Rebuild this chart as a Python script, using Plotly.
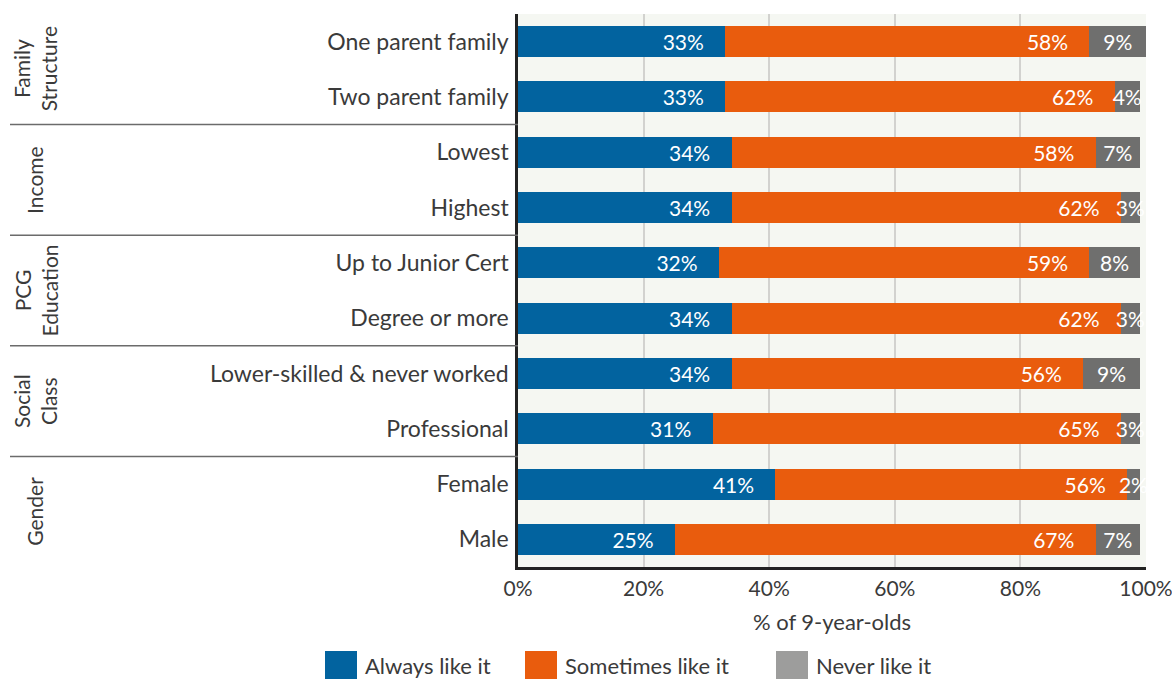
import plotly.graph_objects as go

# data
GROUPS = ["Family<br>Structure", "Income", "PCG<br>Education", "Social<br>Class", "Gender"]
GROUP_SIZES = [2, 2, 2, 2, 2]
CATEGORIES = [
    "One parent family", "Two parent family",
    "Lowest", "Highest",
    "Up to Junior Cert", "Degree or more",
    "Lower-skilled & never worked", "Professional",
    "Female", "Male",
]
ALWAYS = [33, 33, 34, 34, 32, 34, 34, 31, 41, 25]
SOMETIMES = [58, 62, 58, 62, 59, 62, 56, 65, 56, 67]
NEVER = [9, 4, 7, 3, 8, 3, 9, 3, 2, 7]
X_TICKS = [0, 20, 40, 60, 80, 100]

# name, values, bar colour, legend colour, label anchor
SERIES = [
    ("Always like it", ALWAYS, "#02639F", "#02639F", "end"),
    ("Sometimes like it", SOMETIMES, "#E95C0D", "#E95C0D", "end"),
    ("Never like it", NEVER, "#6F6F6E", "#9D9D9C", "middle"),
]

FONT = "Lato, 'Source Sans Pro', sans-serif"
TEXT_COLOR = "#3a3a3a"

W, H = 1172, 679
L, R, T, B = 518, 26, 14, 112
PLOT_W, PLOT_H = W - L - R, H - T - B


def px_x(px):
    return (px - L) / PLOT_W


def px_y(py):
    return (H - B - py) / PLOT_H


fig = go.Figure()
for name, vals, bar_color, legend_color, anchor in SERIES:
    pad = "\u2003\u2009" if anchor == "end" else ""
    fig.add_trace(go.Bar(
        y=CATEGORIES, x=vals, orientation="h",
        name=name, showlegend=False,
        marker=dict(color=bar_color, line=dict(width=0)),
        text=[f"{v}%{pad}" for v in vals],
        textposition="inside", insidetextanchor=anchor, textangle=0,
        textfont=dict(color="white", size=21, family=FONT),
        constraintext="none",
        hovertemplate=f"{name}: %{{x}}%<extra></extra>",
    ))

# group separators and rotated group labels
shapes = []
annotations = []
start = 0
for i, (g, n) in enumerate(zip(GROUPS, GROUP_SIZES)):
    mid = start + (n - 1) / 2
    annotations.append(dict(
        text=g, xref="paper", yref="y", x=px_x(35), y=mid,
        textangle=-90, showarrow=False, xanchor="center", yanchor="middle",
        font=dict(size=21, color=TEXT_COLOR, family=FONT),
    ))
    start += n
    if i < len(GROUPS) - 1:
        shapes.append(dict(
            type="line", xref="paper", yref="y",
            x0=px_x(10), x1=0, y0=start - 0.5, y1=start - 0.5,
            line=dict(color="#6b6b6b", width=1.5),
        ))

# legend drawn by hand: the original uses big square swatches
LEGEND_X = [325, 525, 776]
for (name, _, _, legend_color, _), lx in zip(SERIES, LEGEND_X):
    shapes.append(dict(
        type="rect", xref="paper", yref="paper",
        x0=px_x(lx), x1=px_x(lx + 32), y0=px_y(684), y1=px_y(651),
        fillcolor=legend_color, line=dict(width=0),
    ))
    annotations.append(dict(
        text=name, xref="paper", yref="paper", x=px_x(lx + 38), y=px_y(666),
        xanchor="left", yanchor="middle", showarrow=False,
        font=dict(size=22, color=TEXT_COLOR, family=FONT),
    ))

fig.update_layout(
    barmode="stack",
    bargap=0.44,
    width=W, height=H,
    margin=dict(l=L, r=R, t=T, b=B, autoexpand=False),
    paper_bgcolor="white",
    plot_bgcolor="#F5F7F2",
    font=dict(family=FONT, color=TEXT_COLOR),
    uniformtext=dict(mode="show", minsize=21),
    showlegend=False,
    shapes=shapes,
    annotations=annotations,
)
fig.update_xaxes(
    range=[0, 100], tickvals=X_TICKS, ticktext=[f"{t}%" for t in X_TICKS],
    showgrid=True, gridcolor="#D2D2CF", gridwidth=1.5,
    showline=True, linecolor="#222", linewidth=2.5,
    zeroline=False, automargin=False, ticklabeloverflow="allow",
    tickfont=dict(size=21, color=TEXT_COLOR),
    title=dict(text="% of 9-year-olds", font=dict(size=22, color=TEXT_COLOR), standoff=16),
    ticks="outside", ticklen=1, tickcolor="rgba(0,0,0,0)",
)
fig.update_yaxes(
    categoryorder="array", categoryarray=CATEGORIES, autorange="reversed",
    showline=True, linecolor="#222", linewidth=2.5,
    showgrid=False, automargin=False,
    tickfont=dict(size=23, color=TEXT_COLOR),
    ticks="outside", ticklen=2, tickcolor="rgba(0,0,0,0)",
)

fig.write_html(
    "out.html",
    config={"displayModeBar": False},
    # the page body has a default 8px margin; drop it so the figure fills the window
    post_script="document.body.style.margin='0px';",
)
